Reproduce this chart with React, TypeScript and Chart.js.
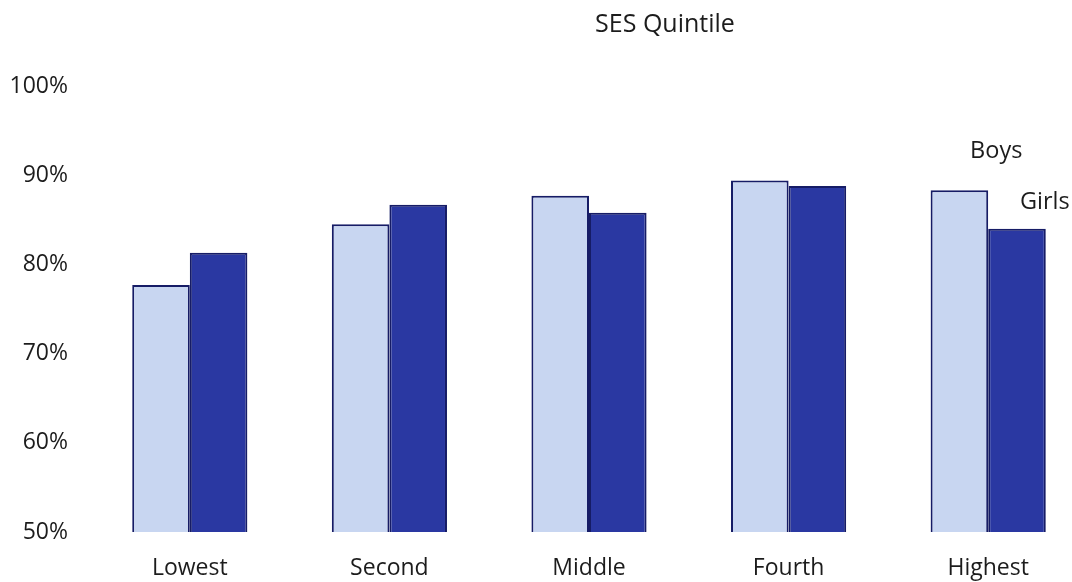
import React, { useEffect, useRef } from "react";
import { Chart, registerables } from "chart.js";

Chart.register(...registerables);

// SES quintiles along the x axis
const categories = ["Lowest", "Second", "Middle", "Fourth", "Highest"];
// Percentages by group
const boysValues = [77.7, 84.5, 87.7, 89.4, 88.3];
const girlsValues = [81.3, 86.7, 85.8, 88.8, 84.0];
const seriesNames = ["Boys", "Girls"];
const chartTitle = "SES Quintile";
// Y axis ticks (percent)
const yTicks = [50, 60, 70, 80, 90, 100];

const FONT = "'Open Sans', Lato, sans-serif";
const TEXT = "#1c1c1c";
const BORDER = "#161c66";

// Heading and in-chart series labels next to the last pair of bars
const annotate = {
  id: "annotate",
  afterDraw(chart: any) {
    const { ctx } = chart;
    ctx.save();
    ctx.fillStyle = TEXT;
    ctx.font = `25px ${FONT}`;
    ctx.textAlign = "center";
    ctx.textBaseline = "alphabetic";
    ctx.fillText(chartTitle, 665, 32);

    ctx.font = `23.5px ${FONT}`;
    const last = categories.length - 1;
    const boyBar = chart.getDatasetMeta(0).data[last];
    const girlBar = chart.getDatasetMeta(1).data[last];
    if (boyBar) {
      ctx.textAlign = "center";
      ctx.fillText(seriesNames[0], boyBar.x + boyBar.width * 0.64, boyBar.y - 32);
    }
    if (girlBar) {
      ctx.textAlign = "left";
      ctx.fillText(seriesNames[1], girlBar.x + 3, girlBar.y - 20);
    }
    ctx.restore();
  },
};

export default function App() {
  const canvasRef = useRef<HTMLCanvasElement | null>(null);

  useEffect(() => {
    document.body.style.margin = "0";
    document.documentElement.style.overflow = "hidden";
    document.body.style.overflow = "hidden";
    const canvas = canvasRef.current;
    if (!canvas) return;
    const chart = new Chart(canvas, {
      type: "bar",
      data: {
        labels: categories,
        datasets: [
          {
            label: seriesNames[0],
            data: boysValues,
            backgroundColor: "#c8d6f1",
            borderColor: BORDER,
            borderWidth: 2,
            borderSkipped: "start",
            barPercentage: 1,
            categoryPercentage: 0.577,
          },
          {
            label: seriesNames[1],
            data: girlsValues,
            backgroundColor: "#2a38a2",
            borderColor: BORDER,
            borderWidth: 2,
            borderSkipped: "start",
            barPercentage: 1,
            categoryPercentage: 0.577,
          },
        ],
      },
      options: {
        animation: false,
        responsive: true,
        maintainAspectRatio: false,
        layout: { padding: { top: 86, right: 0, bottom: 0, left: 0 } },
        plugins: {
          legend: { display: false },
          title: { display: false },
          tooltip: { enabled: false },
        },
        scales: {
          x: {
            grid: { display: false },
            border: { display: false },
            ticks: {
              color: TEXT,
              font: { family: FONT, size: 23 },
              padding: 15,
              maxRotation: 0,
            },
            afterFit(scale: any) {
              scale.height = 50;
            },
          },
          y: {
            min: yTicks[0],
            max: yTicks[yTicks.length - 1],
            grid: { display: false },
            border: { display: false },
            afterBuildTicks(scale: any) {
              scale.ticks = yTicks.map((v) => ({ value: v }));
            },
            ticks: {
              color: TEXT,
              font: { family: FONT, size: 23 },
              padding: 14,
              callback: (v: any) => `${v}%`,
            },
            afterFit(scale: any) {
              scale.width = 90;
            },
          },
        },
      },
      plugins: [annotate],
    });
    return () => chart.destroy();
  }, []);

  return (
    <div
      style={{
        position: "fixed",
        left: 0,
        top: 0,
        width: 1088,
        height: 582,
        background: "#fff",
      }}
    >
      <canvas ref={canvasRef} />
    </div>
  );
}
